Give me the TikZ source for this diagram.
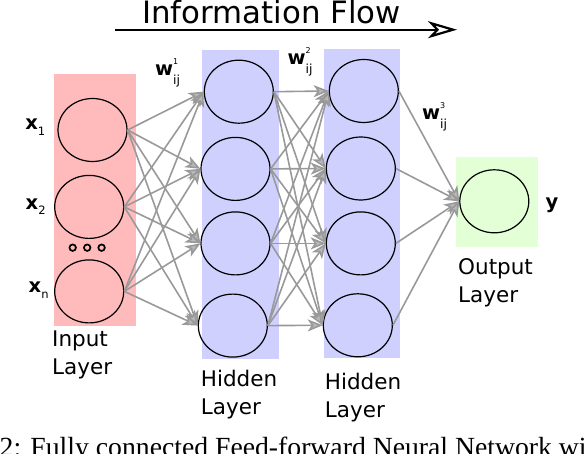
\documentclass[tikz,border=0pt]{standalone}
\usepackage{fontspec}
\setmainfont{DejaVu Sans}
\newfontfamily\capfont{Liberation Serif}
\usepackage{tikz}
\usetikzlibrary{shapes,arrows.meta,positioning,backgrounds}
\definecolor{inputpink}{RGB}{255, 187, 187}
\definecolor{hiddenblue}{RGB}{208, 208, 255}
\definecolor{outgreen}{RGB}{226, 255, 214}
\definecolor{edgegray}{RGB}{153, 153, 153}
\definecolor{tipgray}{RGB}{185, 185, 185}
\tikzstyle{neuron} = [ellipse, draw=black, line width=1.2pt, minimum width=69pt, minimum height=63pt, inner sep=0pt]
\tikzstyle{layerbox} = [rectangle, draw=none, inner sep=0pt, anchor=north west]
\tikzstyle{smalldot} = [circle, draw=black, line width=1.7pt, minimum size=6.5pt, inner sep=0pt]
\tikzstyle{layertext} = [draw=none, fill=none, align=left, inner sep=0pt, font=\fontsize{21.5}{27.7}\selectfont]
\tikzstyle{varlabel} = [draw=none, fill=none, inner sep=0pt, font=\fontsize{19.5}{19.5}\selectfont]
\tikzstyle{titletext} = [draw=none, fill=none, inner sep=0pt, font=\fontsize{30.8}{30.8}\selectfont]
\tikzstyle{captext} = [draw=none, fill=none, inner sep=0pt, font=\capfont\fontsize{27.7}{27.7}\selectfont]
\tikzstyle{tedge} = [draw=edgegray, line width=1.6pt, -{Stealth[length=15pt, width=12pt, inset=4pt, fill=tipgray]}]
\tikzstyle{flowarrow} = [draw=black, line width=1.8pt, -{Stealth[length=29pt, width=17pt, inset=8pt, open, line width=2.2pt]}]
\newcommand{\varname}[2]{{\bfseries #1}\raisebox{-5.5pt}{\fontsize{11.5}{11.5}\selectfont #2}}
\newcommand{\weightname}[1]{{\bfseries w}\rlap{\raisebox{11.5pt}{\fontsize{8}{8}\selectfont #1}}\raisebox{-9pt}{\fontsize{12.5}{12.5}\selectfont ij}}

\begin{document}
\begin{tikzpicture}[x=1pt, y=-1pt]
\useasboundingbox (0,0) rectangle (584,454);

% title ==================================
\node[titletext, anchor=base west] (title) at (142,23.3) {Information Flow};
\coordinate (flowstart) at (115,29.7);
\coordinate (flowend) at (457,29.7);
\draw[flowarrow] (flowstart) -- (flowend);

% layer boxes
\node[layerbox, fill=inputpink, minimum width=82pt, minimum height=252pt] (inbox) at (54,74) {};
\node[layerbox, fill=hiddenblue, minimum width=76.5pt, minimum height=308.5pt] (hidbox1) at (202,50) {};
\node[layerbox, fill=hiddenblue, minimum width=76.7pt, minimum height=309pt] (hidbox2) at (323.3,49) {};
\node[layerbox, fill=outgreen, minimum width=81.3pt, minimum height=90pt] (outbox) at (456,157.3) {};

% neurons ================================

% input
\node[neuron] (x1) at (92.5,130) {};
\node[neuron, below=12.7pt of x1, xshift=-3.3pt] (x2) {};
\node[neuron, below=20.3pt of x2] (xn) {};
\node[smalldot] (dot1) at (72.7,247.7) {};
\node[smalldot, right=6.3pt of dot1] (dot2) {};
\node[smalldot, right=6.2pt of dot2] (dot3) {};

% hidden 1
\node[neuron] (h1a) at (238.8,91.7) {};
\node[neuron, below=13pt of h1a, xshift=-3.3pt] (h1b) {};
\node[neuron, below=10.3pt of h1b] (h1c) {};
\node[neuron, below=18pt of h1c, xshift=-2.7pt] (h1d) {};

% hidden 2
\node[neuron] (h2a) at (363.8,91) {};
\node[neuron, below=13.3pt of h2a, xshift=-3pt] (h2b) {};
\node[neuron, below=10.7pt of h2b] (h2c) {};
\node[neuron, below=17.7pt of h2c, xshift=-3pt] (h2d) {};

% output
\node[neuron] (out) at (494.3,201.3) {};

% labels
\node[varlabel, left=12pt of x1, yshift=3pt] (lx1) {\varname{x}{1}};
\node[varlabel, left=8.3pt of x2] (lx2) {\varname{x}{2}};
\node[varlabel, left=5.3pt of xn, yshift=1.3pt] (lxn) {\varname{x}{n}};
\node[varlabel, right=16pt of out, yshift=-4.3pt] (ly) {\textbf{y}};
\node[varlabel, anchor=base west] (w1) at (155,76) {\weightname{1}};
\node[varlabel, anchor=base west] (w2) at (287.5,65) {\weightname{2}};
\node[varlabel, anchor=base west] (w3) at (422,120) {\weightname{3}};

\node[layertext, below right=4.7pt and -2pt of inbox.south west] (inlbl) {Input\\Layer};
\node[layertext, below right=10.9pt and -1.3pt of hidbox1.south west] (hidlbl1) {Hidden\\Layer};
\node[layertext, below right=14.7pt and 1.4pt of hidbox2.south west] (hidlbl2) {Hidden\\Layer};
\node[layertext, below right=10.7pt and 2pt of outbox.south west] (outlbl) {Output\\Layer};

%edges input -> hidden 1
\path[tedge] (x1.east) -- (h1a.west);
\path[tedge] (x1.east) -- (h1b.west);
\path[tedge] (x1.east) -- (h1c.west);
\path[tedge] (x1.east) -- (h1d.west);
\path[tedge] (x2.east) -- (h1a.west);
\path[tedge] (x2.east) -- (h1b.west);
\path[tedge] (x2.east) -- (h1c.west);
\path[tedge] (x2.east) -- (h1d.west);
\path[tedge] (xn.east) -- (h1a.west);
\path[tedge] (xn.east) -- (h1b.west);
\path[tedge] (xn.east) -- (h1c.west);
\path[tedge] (xn.east) -- (h1d.west);

%edges hidden 1 -> hidden 2
\path[tedge] (h1a.east) -- (h2a.west);
\path[tedge] (h1a.east) -- (h2b.west);
\path[tedge] (h1a.east) -- (h2c.west);
\path[tedge] (h1a.east) -- (h2d.west);
\path[tedge] (h1b.east) -- (h2a.west);
\path[tedge] (h1b.east) -- (h2b.west);
\path[tedge] (h1b.east) -- (h2c.west);
\path[tedge] (h1b.east) -- (h2d.west);
\path[tedge] (h1c.east) -- (h2a.west);
\path[tedge] (h1c.east) -- (h2b.west);
\path[tedge] (h1c.east) -- (h2c.west);
\path[tedge] (h1c.east) -- (h2d.west);
\path[tedge] (h1d.east) -- (h2a.west);
\path[tedge] (h1d.east) -- (h2b.west);
\path[tedge] (h1d.east) -- (h2c.west);
\path[tedge] (h1d.east) -- (h2d.west);

%edges hidden 2 -> output
\path[tedge] (h2a.east) -- (out.west);
\path[tedge] (h2b.east) -- (out.west);
\path[tedge] (h2c.east) -- (out.west);
\path[tedge] (h2d.east) -- (out.west);

% caption, cut by the page edge
\begin{scope}
\clip (0,0) rectangle (584,454);
\node[captext, anchor=base west] (caption) at (-0.5,456) {2: Fully connected Feed-forward Neural Network with};
\end{scope}

\end{tikzpicture}
\end{document}
